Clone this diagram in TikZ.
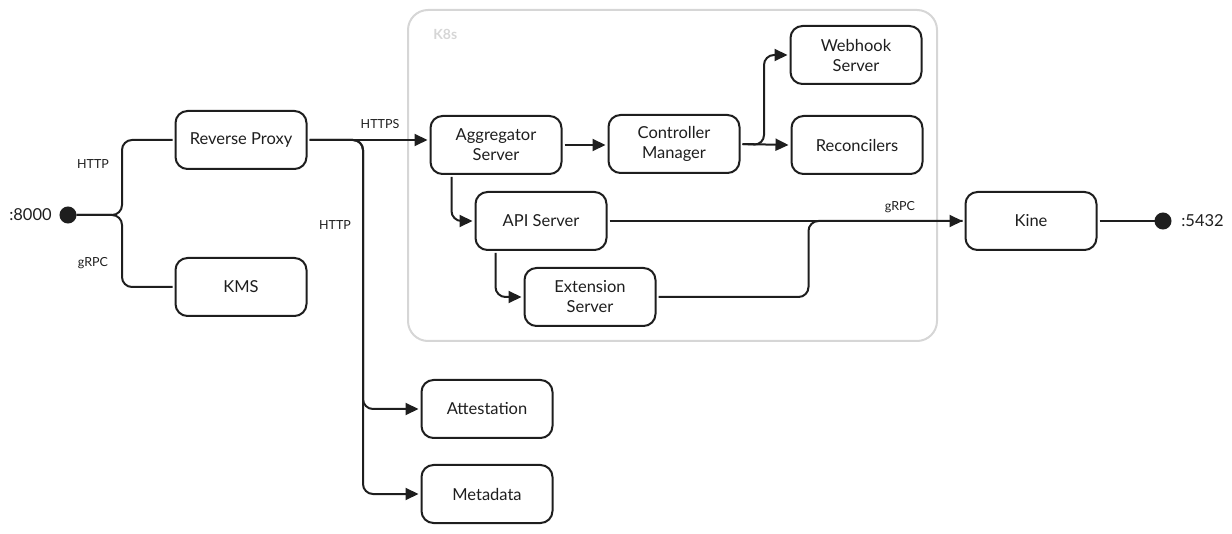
\documentclass[tikz,border=0pt]{standalone}
\usepackage{fontspec}
\setmainfont{Lato}
\usetikzlibrary{arrows.meta}
\definecolor{ink}{HTML}{1E1E1E}
\definecolor{k8sgray}{HTML}{D6D6D6}
\begin{document}
\begin{tikzpicture}[x=1pt,y=-1pt,line width=2pt,
block/.style={draw=ink,rectangle,rounded corners=12pt,minimum width=131pt,minimum height=58pt,align=center,outer sep=3pt,text=ink,font=\fontsize{16.5}{20}\selectfont},
lbl/.style={text=ink,font=\fontsize{12.5}{14}\selectfont},
port/.style={draw=ink,fill=ink,circle,inner sep=0pt,minimum size=15pt},
link/.style={draw=ink,rounded corners=10pt},
arr/.style={link,-{Triangle[length=13pt,width=12pt]}}]
\useasboundingbox (0,0) rectangle (1232,534);

% K8s cluster
\draw[k8sgray,rounded corners=20pt] (408,10) rectangle (937,341);
\draw (429,34) node[anchor=west,text=k8sgray,font=\fontsize{14}{16}\selectfont\bfseries] (k8s) {K8s};

\draw (68,215) node[port] (p8000) {};
\draw (56,215) node[anchor=east,text=ink,font=\fontsize{16.5}{20}\selectfont] {:8000};
\draw (241,140) node[block] (proxy) {Reverse Proxy};
\draw (241,287) node[block] (kms) {KMS};
\draw (496,145) node[block] (agg) {Aggregator\\Server};
\draw (674,144) node[block] (ctrl) {Controller\\Manager};
\draw (856,55) node[block] (hook) {Webhook\\Server};
\draw (857,145) node[block] (rec) {Reconcilers};
\draw (541,221) node[block] (api) {API Server};
\draw (590,297) node[block] (ext) {Extension\\Server};
\draw (487,409) node[block] (att) {Attestation};
\draw (487,494) node[block] (meta) {Metadata};
\draw (1031,221) node[block] (kine) {Kine};
\draw (1163,221) node[port] (p5432) {};
\draw (1177,221) node[anchor=west,text=ink,font=\fontsize{16.5}{20}\selectfont] {:5432};

% entry
\draw[link] (p8000) -- (122,215) |- (proxy.west);
\draw[link] (p8000) -- (122,215) |- (kms.west);
\draw (93,164) node[lbl] {HTTP};
\draw (93,263) node[lbl] {gRPC};

% proxy fan-out
\draw[arr] (proxy.east) -- (proxy.east -| agg.west);
\draw (380,124) node[lbl] {HTTPS};
\draw[arr] (proxy.east) -- (363,140) |- (att.west);
\draw[arr] (proxy.east) -- (363,140) |- (meta.west);
\draw (335,225) node[lbl] {HTTP};

% inside K8s
\draw[arr] (agg.east) -- (agg.east -| ctrl.west);
\draw[arr] (ctrl.east) -- (rec.west);
\draw[arr] (ctrl.east) -- (764,145) |- (hook.west);
\draw[arr] ([xshift=24pt]agg.south west) |- (api.west);
\draw[arr] ([xshift=23pt]api.south west) |- (ext.west);

% storage
\draw[arr] (api.east) -- (kine.west);
\draw[link] (ext.east) -- ++(150,0) |- (kine.west);
\draw (900,207) node[lbl] {gRPC};
\draw[link] (kine.east) -- (p5432);

\end{tikzpicture}
\end{document}
